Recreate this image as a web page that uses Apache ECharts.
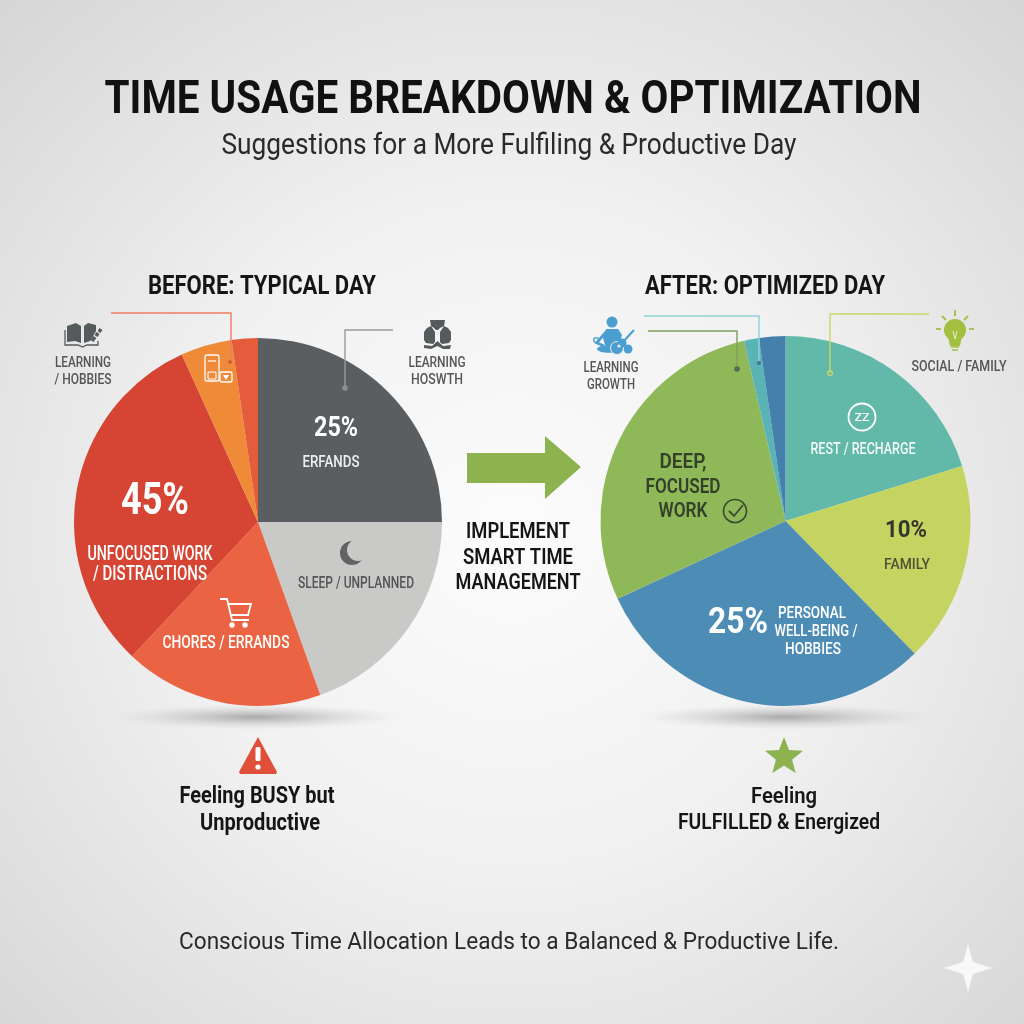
<!DOCTYPE html>
<html>
<head>
<meta charset="utf-8">
<style>html,body{margin:0;padding:0;background:#eee}#c{width:1024px;height:1024px}</style>
<script src="https://cdn.jsdelivr.net/npm/echarts@6/dist/echarts.min.js"></script>
</head>
<body>
<div id="c"></div>
<script>
const beforeCategories = ['Errands', 'Sleep / Unplanned', 'Chores / Errands', 'Unfocused Work / Distractions', 'Learning / Hobbies', 'Learning Growth'];
const beforeValues = [25, 19.5, 17.5, 31.2, 4.5, 2.3];
const beforeColors = ['#5a5e60', '#c9c9c8', '#ea6443', '#d64533', '#ee8a38', '#e45c3c'];
const afterCategories = ['Rest / Recharge', 'Family', 'Personal Well-Being / Hobbies', 'Deep, Focused Work', 'Learning Growth', 'Social / Family'];
const afterValues = [20.2, 17.5, 30.4, 28.3, 1.3, 2.3];
const afterColors = ['#62b8a9', '#c5d361', '#4d8cb5', '#8fb859', '#5ab3b5', '#4580ad'];

const FONT = 'Roboto, "Noto Sans", sans-serif';
const measure = document.createElement('canvas').getContext('2d');
// text centred on (cx, cy), squeezed horizontally to the measured width of the original lettering
function T(cx, cy, text, size, weight, color, width) {
  const font = weight + ' ' + size + 'px ' + FONT;
  measure.font = font;
  const sx = width ? width / measure.measureText(text).width : 1;
  return { type: 'text', x: cx, y: cy + 0.08 * size, scaleX: sx, z: 100, silent: true,
    style: { text: text, x: 0, y: 0, align: 'center', verticalAlign: 'middle', font: font, fill: color } };
}
const line = (pts, color, w) => ({ type: 'polyline', z: 100, silent: true, shape: { points: pts },
  style: { stroke: color, lineWidth: w || 1.4, fill: null } });
const dot = (x, y, r, color) => ({ type: 'circle', z: 100, silent: true, shape: { cx: x, cy: y, r: r }, style: { fill: color } });
const ringO = (x, y, r, color, w) => ({ type: 'circle', z: 100, silent: true, shape: { cx: x, cy: y, r: r }, style: { fill: null, stroke: color, lineWidth: w } });
const poly = (pts, color) => ({ type: 'polygon', z: 100, silent: true, shape: { points: pts }, style: { fill: color } });
const rectO = (x, y, w, h, rr, color, lw) => ({ type: 'rect', z: 100, silent: true, shape: { x: x, y: y, width: w, height: h, r: rr }, style: { fill: null, stroke: color, lineWidth: lw } });
// soft floor shadow: a radial-gradient disc flattened vertically
const shadow = (cx, cy, rx, ry) => ({ type: 'circle', z: 1, silent: true, x: cx, y: cy, scaleY: ry / rx, shape: { cx: 0, cy: 0, r: rx },
  style: { fill: new echarts.graphic.RadialGradient(0.5, 0.5, 0.5, [
    { offset: 0, color: 'rgba(125,125,125,0.62)' }, { offset: 0.45, color: 'rgba(150,150,150,0.32)' }, { offset: 1, color: 'rgba(200,200,200,0)' }]) } });

const starPts = [];
for (let i = 0; i < 10; i++) {
  const r = i % 2 ? 8.5 : 20, a = -Math.PI / 2 + i * Math.PI / 5;
  starPts.push([784 + r * Math.cos(a), 757 + r * Math.sin(a)]);
}

const G = '#555a5c', B = '#4a9fd0';
const graphics = [
  shadow(256, 717, 150, 13), shadow(785, 717, 150, 13),

  T(513, 97, 'TIME USAGE BREAKDOWN & OPTIMIZATION', 47, 700, '#111', 817),
  T(509, 144, 'Suggestions for a More Fulfiling & Productive Day', 30, 400, '#2a2a2a', 575),
  T(262, 286, 'BEFORE: TYPICAL DAY', 25, 700, '#151515', 228),
  T(765, 286, 'AFTER: OPTIMIZED DAY', 25, 700, '#151515', 240),

  // left pie leaders and outer labels
  line([[111, 313], [231, 313], [231, 362]], '#ee7c63'), dot(230, 362, 1.8, '#c8553a'),
  line([[393, 330], [345, 330], [345, 388]], '#9a9a9a'), dot(345, 388, 2.8, '#8c8c8c'),
  T(83, 362, 'LEARNING', 14, 500, '#555', 56), T(83, 379, '/ HOBBIES', 14, 500, '#555', 57),
  T(437, 362, 'LEARNING', 14, 500, '#555', 57), T(437, 379, 'HOSWTH', 14, 500, '#555', 52),

  // book icon
  poly([[67, 326], [76, 323], [81, 326], [81, 343], [75, 341], [67, 342]], G),
  poly([[84, 326], [88, 323], [96, 325], [96, 331], [91, 340], [90, 341], [84, 343]], G),
  line([[65, 330], [65, 345], [78, 345], [82.5, 347], [87, 345], [98, 345], [98, 341]], G, 1.3),
  line([[92, 341], [95, 337]], G, 3.6), line([[96, 336], [98, 333]], G, 3.6), line([[99, 332], [101, 329]], G, 3.4),
  // torso-shaped icon
  poly([[427, 328], [431, 326], [435, 332], [435, 342], [433, 344], [426, 343], [424, 340], [424, 332]], G),
  poly([[448, 328], [444, 326], [440, 332], [440, 342], [442, 344], [449, 343], [451, 340], [451, 332]], G),
  poly([[430, 320], [445, 320], [444, 326], [440, 328], [438, 330], [436, 330], [434, 328], [431, 326]], G),
  poly([[424, 345], [432, 346], [437.5, 341], [443, 346], [451, 345], [450, 349], [443, 349], [437.5, 346], [431, 349], [424, 348]], G),

  // phone icon on the orange slice
  rectO(205, 355, 14, 26, 2, '#fff', 1.3), rectO(220, 372, 12, 10, 2, '#fff', 1.3),
  rectO(208, 372, 8, 7, 1, '#fff', 1.1), line([[208, 361], [216, 361]], '#fff', 1.2), poly([[223, 375], [229, 375], [226, 380]], '#fff'),

  // left pie inner labels
  T(336, 427, '25%', 27, 700, '#fff', 44), T(331, 462, 'ERFANDS', 16, 500, '#eee', 57),
  T(155, 499, '45%', 44, 700, '#fff', 68),
  T(150, 554, 'UNFOCUSED WORK', 19.5, 500, '#fff', 125), T(150, 574, '/ DISTRACTIONS', 19.5, 500, '#fff', 114),
  T(226, 642, 'CHORES / ERRANDS', 18.5, 500, '#fff', 127),
  T(356, 583, 'SLEEP / UNPLANNED', 16, 500, '#555', 116),
  // moon
  dot(352, 553, 12, '#626262'), dot(358, 550, 11, '#c9c9c8'),
  // cart
  line([[220, 599], [227, 599], [232, 620], [249, 620]], '#fff', 1.8),
  line([[228, 604], [251, 604], [248, 615], [231, 615]], '#fff', 1.8),
  dot(232, 625, 2.7, '#fff'), dot(245, 625, 2.7, '#fff'),

  // arrow
  poly([[467, 453], [545, 453], [545, 436], [581, 467], [545, 499], [545, 483], [467, 483]], '#8db351'),
  T(518, 531, 'IMPLEMENT', 22, 600, '#151515', 104),
  T(518, 557, 'SMART TIME', 22, 600, '#151515', 110),
  T(518, 582, 'MANAGEMENT', 22, 600, '#151515', 125),

  // right pie leaders and outer labels
  line([[644, 316], [759, 316], [759, 363]], '#8fd3d8'), dot(759, 363, 2, '#3f7590'),
  line([[648, 331], [737, 331], [737, 369]], '#7f9f5c'), dot(737, 369, 2.8, '#52704d'),
  line([[929, 314], [830, 314], [830, 373]], '#c9d66b'), ringO(830, 373, 2.4, '#c9d66b', 1.2),
  T(611, 367, 'LEARNING', 14, 500, '#555', 55), T(611, 384, 'GROWTH', 14, 500, '#555', 48),
  T(959, 366, 'SOCIAL / FAMILY', 15, 500, '#555', 95),

  // meditating person with guitar
  dot(612, 322, 5.5, B),
  poly([[606, 329], [618, 329], [622, 335], [619, 345], [606, 348], [603, 338]], B),
  line([[606, 332], [599, 340], [597, 343], [604, 346]], B, 2.8), ringO(596, 340, 2.4, B, 1.3),
  { type: 'ellipse', z: 100, silent: true, shape: { cx: 609, cy: 349, rx: 12, ry: 3.8 }, style: { fill: B } },
  dot(628, 349, 4.5, B),
  { type: 'circle', z: 100, silent: true, shape: { cx: 617, cy: 348, r: 6.5 }, style: { fill: B, stroke: '#eeeeee', lineWidth: 1 } },
  dot(622, 343, 4.5, B), dot(619, 346, 1.6, '#eeeeee'),
  line([[622, 343], [634, 330]], B, 2),
  // bulb
  dot(955, 330, 11, '#a3bf3f'), poly([[948, 336], [962, 336], [960, 346], [950, 346]], '#a3bf3f'),
  line([[951, 347], [959, 347]], '#a3bf3f', 1.5), line([[952, 350], [958, 350]], '#a3bf3f', 1.5),
  line([[953, 331], [955, 339], [957, 331]], '#e8eccb', 1),
  line([[955, 310], [955, 316]], '#a3bf3f', 1.8), line([[942, 316], [946, 320]], '#a3bf3f', 1.8),
  line([[968, 316], [964, 320]], '#a3bf3f', 1.8), line([[936, 329], [941, 329]], '#a3bf3f', 1.8), line([[969, 329], [974, 329]], '#a3bf3f', 1.8),

  // right pie inner labels
  ringO(862, 417, 13.5, '#fff', 1.8), T(862, 417, 'ZZ', 11, 500, '#fff', 15),
  T(863, 449, 'REST / RECHARGE', 16.5, 500, '#f2f8f6', 105),
  T(906, 529, '10%', 24, 700, '#33382a', 42), T(907, 564, 'FAMILY', 15.5, 500, '#4d5238', 46),
  T(738, 621, '25%', 37, 700, '#fff', 60),
  T(812, 613, 'PERSONAL', 16, 500, '#fff', 68), T(816, 631, 'WELL-BEING /', 16, 500, '#fff', 83), T(813, 649, 'HOBBIES', 16, 500, '#fff', 56),
  T(683, 461, 'DEEP,', 21, 600, '#33402a', 47), T(683, 486, 'FOCUSED', 21, 600, '#33402a', 75), T(683, 510, 'WORK', 21, 600, '#33402a', 49),
  ringO(735, 511, 11.5, '#3a4a30', 1.6), line([[729, 511], [734, 516], [743, 505]], '#3a4a30', 1.8),

  // bottom captions
  poly([[258, 737], [277, 772], [276, 774], [240, 774], [239, 772]], '#e04f39'),
  { type: 'rect', z: 101, silent: true, shape: { x: 255.5, y: 747, width: 5, height: 14, r: 1.5 }, style: { fill: '#fff' } },
  dot(258, 767, 2.6, '#fff'),
  T(257, 795, 'Feeling BUSY but', 23, 700, '#151515', 155),
  T(260, 822, 'Unproductive', 23, 700, '#151515', 120),
  poly(starPts, '#8db351'),
  T(784, 796, 'Feeling', 22, 600, '#151515', 66),
  T(779, 822, 'FULFILLED & Energized', 22, 600, '#151515', 202),
  T(509, 941, 'Conscious Time Allocation Leads to a Balanced & Productive Life.', 24, 400, '#2a2a2a', 660),

  // sparkle mark
  poly([[968, 944], [973, 962], [992, 968], [973, 974], [968, 992], [963, 974], [944, 968], [963, 962]], '#f8f8f8')
];

const pie = (name, cats, vals, cols, center, radius) => ({
  type: 'pie', name: name, center: center, radius: radius, startAngle: 90, clockwise: true,
  silent: true, animation: false, label: { show: false }, labelLine: { show: false },
  itemStyle: { borderWidth: 0 },
  data: vals.map((v, i) => ({ name: cats[i], value: v, itemStyle: { color: cols[i] } }))
});

const chart = echarts.init(document.getElementById('c'), null, { renderer: 'canvas', width: 1024, height: 1024 });
chart.setOption({
  animation: false,
  backgroundColor: new echarts.graphic.RadialGradient(0.5, 0.52, 0.72, [
    { offset: 0, color: '#fcfcfc' }, { offset: 0.45, color: '#f1f1f1' }, { offset: 1, color: '#d6d6d6' }]),
  series: [
    pie('Before: Typical Day', beforeCategories, beforeValues, beforeColors, [258, 522], 184),
    pie('After: Optimized Day', afterCategories, afterValues, afterColors, [785.5, 521], 185)
  ],
  graphic: { elements: graphics }
});
</script>
</body>
</html>
